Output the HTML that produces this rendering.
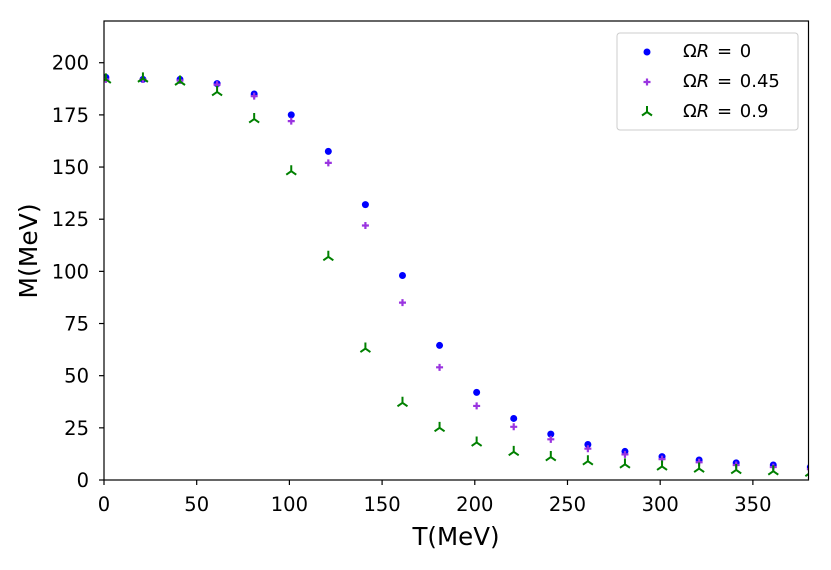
<!DOCTYPE html>
<html><head><meta charset="utf-8"><style>
body{margin:0;background:#fff}
svg text{font-family:"DejaVu Sans","Liberation Sans",sans-serif}
</style></head><body>
<svg id="chart" width="831" height="565" xmlns="http://www.w3.org/2000/svg">
<rect width="831" height="565" fill="#fff"/>
<g id="plot"></g>
<g id="axes"></g>
<g id="legend">
<rect x="617" y="33" width="181" height="97" rx="3" fill="#fff" stroke="#ccc" stroke-width="1"/>
<circle cx="647" cy="52" r="3.5" fill="#0000ff"/>
<text x="683" y="57" font-size="18" word-spacing="2">Ω<tspan font-style="italic">R</tspan> = 0</text>
<path d="M643.5 82h7M647 78.5v7" stroke="#9a34e0" stroke-width="2.2"/>
<text x="683" y="87" font-size="18" word-spacing="2">Ω<tspan font-style="italic">R</tspan> = 0.45</text>
<path d="M647 112v-6M647 112l-5 3.5M647 112l5 3.5" stroke="#008000" stroke-width="2" fill="none"/>
<text x="683" y="117" font-size="18" word-spacing="2">Ω<tspan font-style="italic">R</tspan> = 0.9</text>
</g>
</svg>
<script>
const temps=[1,21,41,61,81,101,121,141,161,181,201,221,241,261,281,301,321,341,361,381];
const m0=[193,192,192,190,185,175,157.5,132,98,64.5,42,29.5,22,17,13.7,11.2,9.6,8.2,7.2,6.2];
const m045=[192,192,191.5,189.5,184,172,152,122,85,54,35.5,25.5,19.5,15,12.3,10,8.5,7.2,6.2,5.2];
const m09=[192,192.5,191,186,173,148,107,63,37,25,18,13.5,11,9,7.5,6.5,5.5,4.8,4.2,3.5];
const xTicks=[0,50,100,150,200,250,300,350];
const yTicks=[0,25,50,75,100,125,150,175,200];
const X0=104,X1=808.5,Y0=480,Y1=21,XMAX=380,YMAX=220;
const sx=v=>X0+(v/XMAX)*(X1-X0);
const sy=v=>Y0-(v/YMAX)*(Y0-Y1);
const NS="http://www.w3.org/2000/svg";
const plot=document.getElementById('plot'),axes=document.getElementById('axes');
function mk(tag,attrs,parent){const e=document.createElementNS(NS,tag);for(const k in attrs)e.setAttribute(k,attrs[k]);parent.appendChild(e);return e;}
const cp=mk('clipPath',{id:'clip'},plot);mk('rect',{x:X0,y:Y1,width:X1-X0,height:Y0-Y1},cp);
const g=mk('g',{'clip-path':'url(#clip)'},plot);
temps.forEach((t,i)=>{
  const c=mk('circle',{cx:sx(t),cy:sy(m0[i]),r:3.5,fill:'#0000ff'},g);
  
  
});
temps.forEach((t,i)=>{
  const x=sx(t),y=sy(m045[i]);
  const p=mk('path',{d:`M${x-3.5} ${y}h7M${x} ${y-3.5}v7`,stroke:'#9a34e0','stroke-width':2.2},g);
  
  
});
temps.forEach((t,i)=>{
  const x=sx(t),y=sy(m09[i]);
  const p=mk('path',{d:`M${x} ${y}v-6M${x} ${y}l-5 3.5M${x} ${y}l5 3.5`,stroke:'#008000','stroke-width':2,fill:'none'},g);
  
  
});
const frame=mk('rect',{x:X0,y:Y1,width:X1-X0,height:Y0-Y1,fill:'none',stroke:'#000','stroke-width':1.2},axes);


xTicks.forEach(v=>{
  const x=sx(v);
  mk('line',{x1:x,x2:x,y1:Y0,y2:Y0+5,stroke:'#000','stroke-width':1.2},axes);
  const t=mk('text',{x:x,y:511,'font-size':19.5,'text-anchor':'middle'},axes);t.textContent=v;
  
  
});
yTicks.forEach(v=>{
  const y=sy(v);
  mk('line',{x1:X0-5,x2:X0,y1:y,y2:y,stroke:'#000','stroke-width':1.2},axes);
  const t=mk('text',{x:89,y:y+7,'font-size':19.5,'text-anchor':'end'},axes);t.textContent=v;
  
  
});
const xl=mk('text',{x:456,y:545,'font-size':24.5,'text-anchor':'middle'},axes);xl.textContent='T(MeV)';


const yl=mk('text',{x:0,y:0,'font-size':25,'text-anchor':'middle',transform:`translate(37,251) rotate(-90)`},axes);yl.textContent='M(MeV)';


</script>
</body></html>
